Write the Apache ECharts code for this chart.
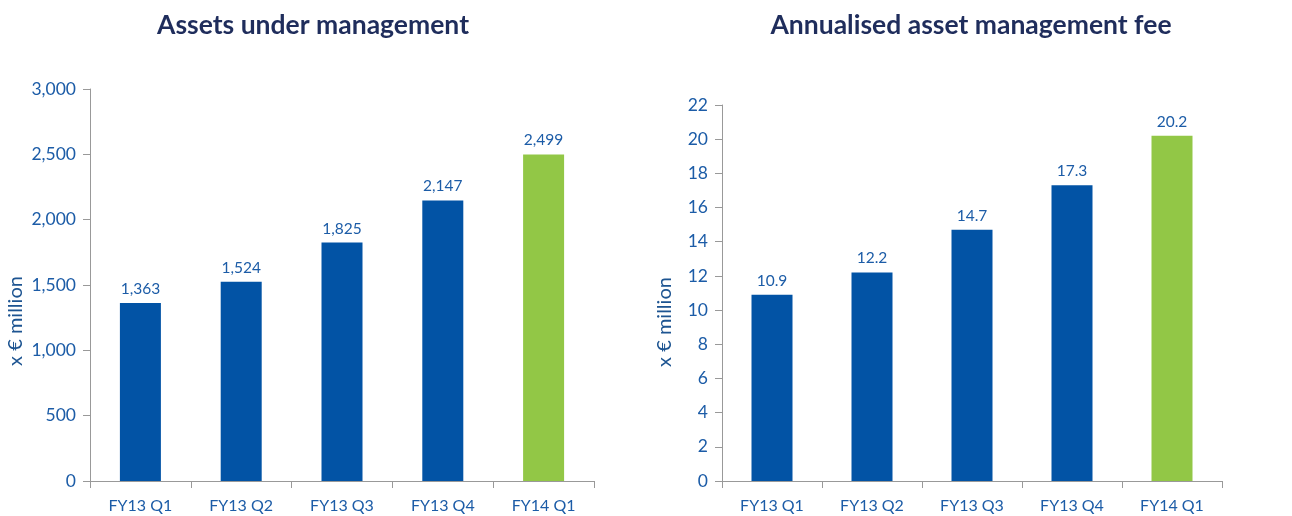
<!DOCTYPE html>
<html>
<head>
<meta charset="utf-8">
<script src="https://cdn.jsdelivr.net/npm/echarts@6/dist/echarts.min.js"></script>
<style>
  html, body { margin: 0; padding: 0; background: #fff; }
  #main { width: 1292px; height: 516px; }
</style>
</head>
<body>
<div id="main"></div>
<script>
const quarters = ['FY13 Q1', 'FY13 Q2', 'FY13 Q3', 'FY13 Q4', 'FY14 Q1'];
const aumValues = [1363, 1524, 1825, 2147, 2499];
const feeValues = [10.9, 12.2, 14.7, 17.3, 20.2];
const titles = ['Assets under management', 'Annualised asset management fee'];
const unitName = 'x \u20ac million';

const BLUE = '#0253a5';
const GREEN = '#92c746';
const TEXT = '#1c5ca7';
const FONT = 'Lato';

const chart = echarts.init(document.getElementById('main'));

// last bar is highlighted green
function colored(values) {
  return values.map((v, i) => ({
    value: v,
    itemStyle: { color: i === values.length - 1 ? GREEN : BLUE }
  }));
}

const fmtThousands = v => v.toLocaleString('en-US');

function xAxisCfg(idx) {
  return {
    type: 'category',
    gridIndex: idx,
    data: quarters,
    axisLine: { lineStyle: { color: '#999', width: 1 } },
    axisTick: { show: true, length: 7, lineStyle: { color: '#999' } },
    axisLabel: { color: TEXT, fontSize: 16, fontFamily: FONT, margin: 17 }
  };
}

function yAxisCfg(idx, max, interval, fmt) {
  return {
    type: 'value',
    gridIndex: idx,
    min: 0,
    max: max,
    interval: interval,
    axisLine: { show: true, lineStyle: { color: '#999', width: 1 } },
    axisTick: { show: true, length: 7, lineStyle: { color: '#999' } },
    splitLine: { show: false },
    axisLabel: { color: TEXT, fontSize: 17.5, fontFamily: FONT, margin: 14, formatter: fmt }
  };
}

function barSeries(idx, values, fmt) {
  return {
    type: 'bar',
    xAxisIndex: idx,
    yAxisIndex: idx,
    barWidth: 41,
    data: colored(values),
    label: {
      show: true,
      position: 'top',
      distance: 6,
      color: TEXT,
      fontSize: 15.5,
      fontFamily: FONT,
      formatter: p => fmt(p.value)
    }
  };
}

const titleStyle = { color: '#1f2d5c', fontSize: 26.5, fontWeight: 'bold', fontFamily: FONT };

const option = {
  animation: false,
  backgroundColor: '#fff',
  title: [
    { text: titles[0], left: 308, top: 7, textAlign: 'center', textStyle: titleStyle },
    { text: titles[1], left: 966, top: 7, textAlign: 'center', textStyle: titleStyle }
  ],
  grid: [
    { left: 90, top: 89, width: 504, height: 392 },
    { left: 722, top: 105, width: 500, height: 376 }
  ],
  xAxis: [xAxisCfg(0), xAxisCfg(1)],
  yAxis: [
    yAxisCfg(0, 3000, 500, fmtThousands),
    yAxisCfg(1, 22, 2, v => v)
  ],
  series: [
    barSeries(0, aumValues, fmtThousands),
    barSeries(1, feeValues, v => v.toFixed(1))
  ],
  graphic: [
    { type: 'text', x: 16, y: 321, rotation: Math.PI / 2,
      style: { text: unitName, fill: '#1d5491', font: '20px ' + FONT, align: 'center', verticalAlign: 'middle' } },
    { type: 'text', x: 665, y: 322, rotation: Math.PI / 2,
      style: { text: unitName, fill: '#1d5491', font: '20px ' + FONT, align: 'center', verticalAlign: 'middle' } }
  ]
};

chart.setOption(option);
</script>
</body>
</html>
